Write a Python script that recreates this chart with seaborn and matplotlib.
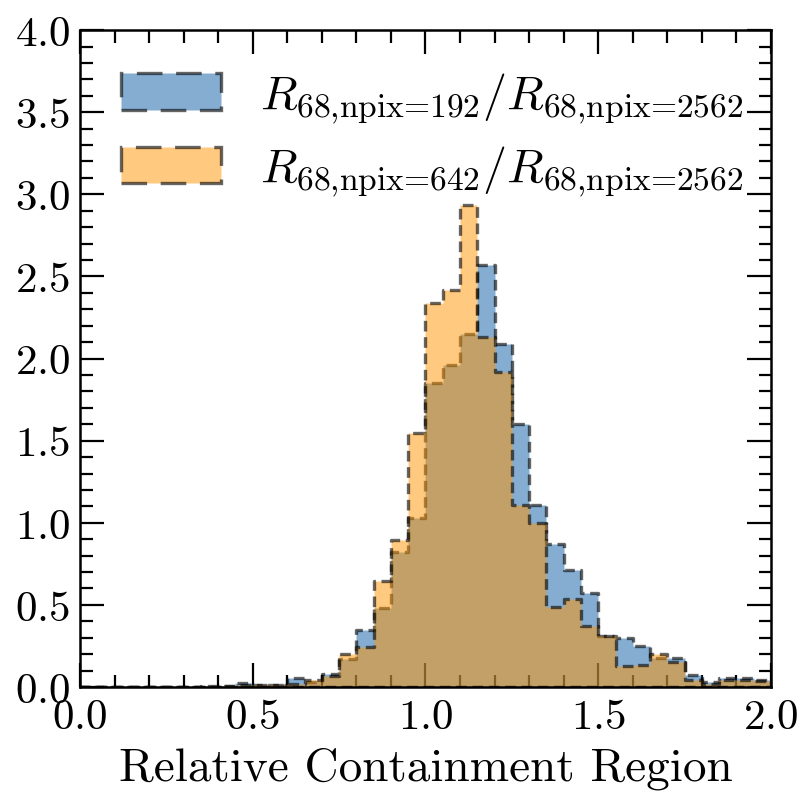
import numpy as np
import pandas as pd
import matplotlib
matplotlib.use("Agg")
import matplotlib.pyplot as plt
import seaborn as sns

# histogram bin edges (width 0.05 from 0 to 2)
bin_edges = np.linspace(0.0, 2.0, 41)

# density heights per bin
r192_heights = [
    0, 0, 0, 0, 0, 0, 0, 0.006, 0.006, 0.026,
    0.012, 0.012, 0.057, 0.03, 0.077, 0.17, 0.345, 0.48, 0.82, 1.03,
    1.85, 1.96, 2.15, 2.57, 2.09, 1.60, 1.11, 0.87, 0.71, 0.57,
    0.31, 0.30, 0.25, 0.175, 0.175, 0.073, 0.028, 0.057, 0.053, 0.04,
]
r642_heights = [
    0, 0, 0, 0, 0, 0, 0, 0, 0.006, 0.012,
    0.012, 0.012, 0.02, 0.045, 0.065, 0.20, 0.245, 0.645, 0.895, 1.545,
    2.34, 2.42, 2.935, 2.13, 1.92, 1.11, 1.00, 0.485, 0.535, 0.37,
    0.31, 0.125, 0.135, 0.20, 0.15, 0.04, 0.018, 0.045, 0.045, 0.035,
]

labels = [
    r"$R_{\text{68,npix=192}}/R_{\text{68,npix=2562}}$",
    r"$R_{\text{68,npix=642}}/R_{\text{68,npix=2562}}$",
]
colors = ["#0C5DA5", "#FF9500"]

sns.set_style("ticks", {"axes.edgecolor": "black", "xtick.color": "black",
                        "ytick.color": "black", "text.color": "black",
                        "axes.labelcolor": "black"})
plt.rcParams["font.family"] = "serif"
plt.rcParams["font.serif"] = ["cmr10", "DejaVu Serif"]
plt.rcParams["mathtext.fontset"] = "cm"
plt.rcParams["axes.formatter.use_mathtext"] = True

fig = plt.figure(figsize=(8.12, 8.12), dpi=100)
ax = fig.add_axes([0.0985, 0.1527, 0.851, 0.809])

centers = 0.5 * (bin_edges[:-1] + bin_edges[1:])
for heights, label, color in zip([r192_heights, r642_heights], labels, colors):
    df = pd.DataFrame({"center": centers, "height": heights})
    sns.histplot(
        data=df, x="center", weights="height", bins=list(bin_edges),
        element="step", fill=True, color=color, alpha=0.5, ax=ax,
        label=label, edgecolor=(0, 0, 0, 0.6), linestyle=(0, (3.2, 1.7)),
        linewidth=2.4,
    )

ax.set_xlim(0, 2)
ax.set_ylim(0, 4)
ax.set_xlabel("Relative Containment Region", fontsize=34, labelpad=8)
ax.set_ylabel("")
ax.xaxis.set_major_locator(plt.MultipleLocator(0.5))
ax.xaxis.set_minor_locator(plt.MultipleLocator(0.1))
ax.yaxis.set_major_locator(plt.MultipleLocator(0.5))
ax.yaxis.set_minor_locator(plt.MultipleLocator(0.1))
ax.tick_params(which="both", direction="in", top=True, right=True,
               labelsize=31, width=1.6, pad=7)
ax.tick_params(axis="x", which="both", pad=8)
ax.tick_params(which="major", length=17)
ax.tick_params(which="minor", length=9)
for sp in ax.spines.values():
    sp.set_linewidth(1.8)

ax.legend(loc="upper left", frameon=False, fontsize=34.5,
          handlelength=2.1, handleheight=0.8, handletextpad=0.8,
          labelspacing=0.4, borderaxespad=0.45)

fig.savefig("out.png", dpi=100)
